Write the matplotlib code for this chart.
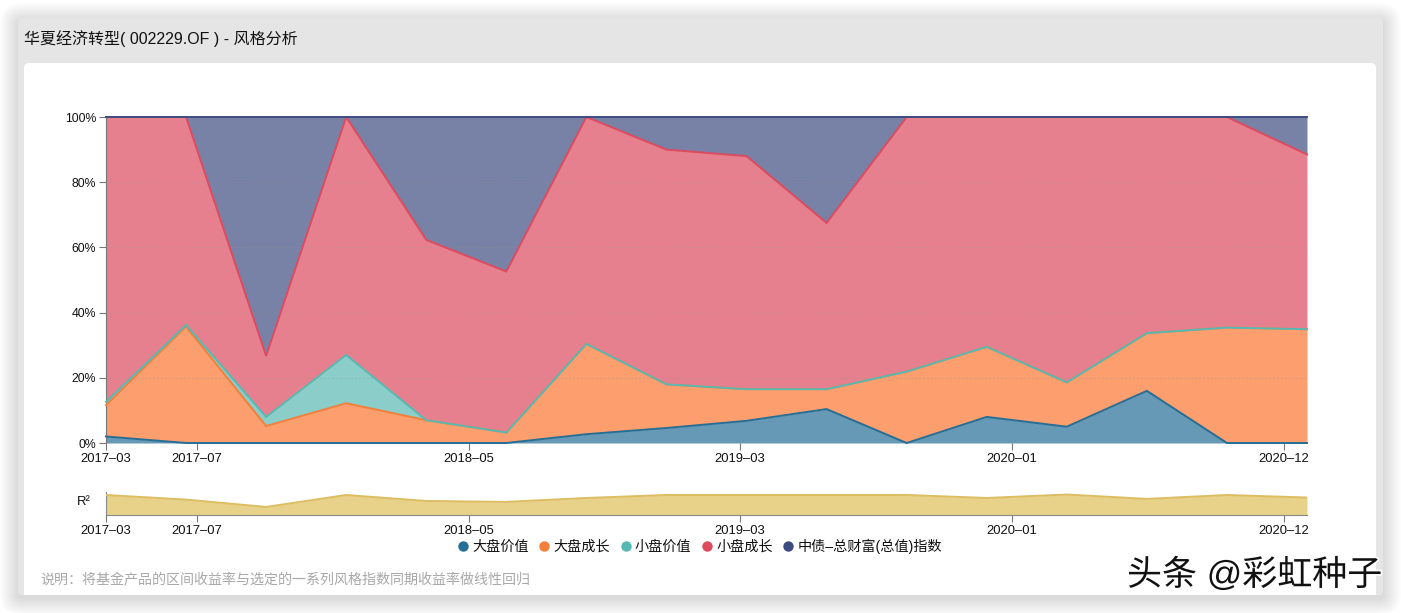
import numpy as np
import matplotlib
matplotlib.use('Agg')
import matplotlib.pyplot as plt
from matplotlib import patheffects
from matplotlib.lines import Line2D
from matplotlib.patches import FancyBboxPatch, Rectangle

plt.rcParams['font.family'] = ['Liberation Sans', 'Noto Sans CJK SC', 'DejaVu Sans']

W, H = 1401, 613

names = ['大盘价值', '大盘成长', '小盘价值', '小盘成长', '中债-总财富(总值)指数']
colors = ['#256e96', '#f47f3a', '#58b9b2', '#de4a5e', '#3f4c80']
fill_colors = ['#256e96', '#fb7530', '#58b9b2', '#de4a5e', '#3f4c80']

big_value = [2, 0, 0, 0, 0, 0, 2.7, 4.6, 6.8, 10.4, 0, 8, 5, 16, 0, 0]
big_growth = [9.6, 35.7, 5.2, 12.2, 7, 3.2, 27.7, 13.4, 9.7, 6.1, 21.9, 21.5, 13.6, 17.7, 35.4, 34.9]
small_value = [1, 0.5, 2.8, 14.8, 0, 0, 0, 0, 0, 0, 0, 0, 0, 0, 0, 0]
small_growth = [87.4, 63.8, 18.7, 73, 55.3, 49.4, 69.6, 72, 71.5, 51, 78.1, 70.5, 81.4, 66.3, 64.6, 53.6]
bond = [0, 0, 73.3, 0, 37.7, 47.4, 0, 10, 12, 32.5, 0, 0, 0, 0, 0, 11.5]
r2 = [0.87, 0.67, 0.35, 0.87, 0.61, 0.57, 0.74, 0.87, 0.87, 0.87, 0.87, 0.74, 0.89, 0.70, 0.87, 0.76]

periods = np.arange(len(r2))
tick_pos = [0, 1.131, 4.529, 7.918, 11.315, 14.71]
tick_labels = ['2017-03', '2017-07', '2018-05', '2019-03', '2020-01', '2020-12']
y_ticks = [0, 20, 40, 60, 80, 100]


def px_axes(x0, y0, x1, y1):
    # 像素坐标转 figure 坐标, y 从上往下
    return fig.add_axes([x0 / W, 1 - y1 / H, (x1 - x0) / W, (y1 - y0) / H])


fig = plt.figure(figsize=(W / 100, H / 100), dpi=100, facecolor='white')

# 背景卡片
bg = fig.add_axes([0, 0, 1, 1])
bg.set_xlim(0, W)
bg.set_ylim(H, 0)
bg.axis('off')
for grow in range(18, 0, -1):
    bg.add_patch(FancyBboxPatch((18 - grow, 18 - grow + 3), 1365 + 2 * grow, 577 + 2 * grow,
                                boxstyle=f'round,pad=0,rounding_size={grow + 4}',
                                fc='black', ec='none', alpha=0.007))
bg.add_patch(FancyBboxPatch((18, 18), 1365, 577, boxstyle='round,pad=0,rounding_size=4',
                            fc='#e5e5e5', ec='none'))
bg.add_patch(FancyBboxPatch((24, 63), 1352, 532, boxstyle='round,pad=0,rounding_size=5',
                            fc='white', ec='none'))
bg.add_patch(Rectangle((24, 585), 1352, 10, fc='white', ec='none'))

bg.text(24, 38.5, '华夏经济转型( 002229.OF ) - 风格分析', fontsize=11.5, color='#111111', va='center')
bg.text(40, 580.5, '说明：将基金产品的区间收益率与选定的一系列风格指数同期收益率做线性回归',
        fontsize=10.1, color='#a8a8a8', va='center')
bg.text(1127, 575, '头条 @彩虹种子', fontsize=25.2, color='#111111', va='center', zorder=10,
        path_effects=[patheffects.withStroke(linewidth=2.5, foreground='white')])

# 风格分析主图
ax = px_axes(106, 117, 1307, 443)
series = [big_value, big_growth, small_value, small_growth, bond]
tops = np.cumsum(np.array(series), axis=0)
bottom = np.zeros(len(r2))
for top, c in zip(tops, fill_colors):
    ax.fill_between(periods, bottom, top, color=c, alpha=0.7, lw=0, zorder=2)
    bottom = top
for top, c in zip(tops, colors):
    ax.plot(periods, top, color=c, lw=1.4, zorder=3, clip_on=False, solid_joinstyle='miter')

ax.set_xlim(0, 15)
ax.set_ylim(0, 100)
ax.set_yticks(y_ticks)
ax.set_yticklabels([f'{v}%' for v in y_ticks], fontsize=8.8)
ax.set_xticks(tick_pos)
ax.set_xticklabels([t.replace('-', '–') for t in tick_labels])
ax.grid(axis='y', color='#999999', lw=0.8, ls=(0, (1.5, 2)), alpha=0.35, zorder=4)
ax.set_axisbelow(False)
ax.tick_params(axis='x', length=5, width=0.8, color='#777777', labelsize=9.4, labelcolor='#111111', pad=2)
ax.tick_params(axis='y', length=5, width=0.8, color='#777777', labelcolor='#111111', pad=2)
for s in ['top', 'right', 'bottom']:
    ax.spines[s].set_visible(False)
ax.spines['left'].set_color('#777777')
ax.spines['left'].set_linewidth(0.8)
ax.patch.set_alpha(0)

# R2 小图
ax2 = px_axes(106, 492, 1307, 515)
ax2.fill_between(periods, 0, r2, color='#e8d28a', lw=0, zorder=2)
ax2.plot(periods, r2, color='#dcbd62', lw=1.4, zorder=3)
ax2.set_xlim(0, 15)
ax2.set_ylim(0, 1)
ax2.set_yticks([])
ax2.set_xticks(tick_pos)
ax2.set_xticklabels([t.replace('-', '–') for t in tick_labels])
ax2.tick_params(axis='x', length=5, width=0.8, color='#777777', labelsize=9.4, labelcolor='#111111', pad=2)
for s in ['top', 'right']:
    ax2.spines[s].set_visible(False)
ax2.spines['bottom'].set_color('#888888')
ax2.spines['left'].set_color('#888888')
ax2.spines['left'].set_linewidth(0.8)
ax2.patch.set_alpha(0)
bg.text(84, 502, 'R²', fontsize=9.4, color='#111111', ha='center', va='center')

# 图例
handles = [Line2D([], [], ls='none', marker='o', ms=7.5, mfc=c, mec='none') for c in colors]
labels = [n.replace('-', '–') for n in names]
fig.legend(handles, labels, ncol=5, loc='center', bbox_to_anchor=(698.5 / W, 1 - 546 / H), frameon=False,
           fontsize=10.2, handletextpad=0.1, columnspacing=0.55, handlelength=1.1, labelcolor='#111111')

fig.savefig('out.png', dpi=100)
plt.close()
